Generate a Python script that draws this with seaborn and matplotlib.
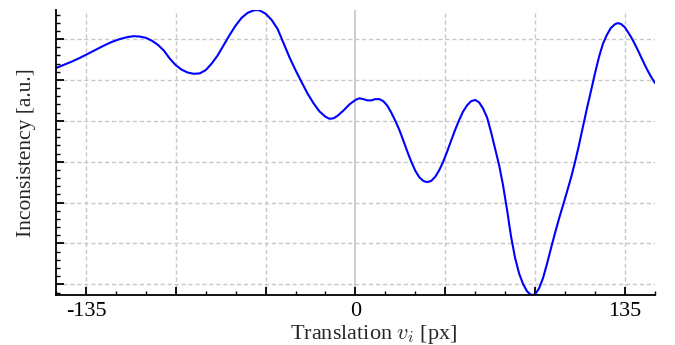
import numpy as np
import pandas as pd
import matplotlib
matplotlib.use("Agg")
import matplotlib.pyplot as plt
import seaborn as sns
from matplotlib.ticker import MultipleLocator, NullFormatter, FixedLocator

# translation (px) and inconsistency (a.u.)
translation = [-150, -146, -142, -138, -134, -130, -126, -122, -118, -114,
               -111, -108, -105, -102, -99, -96, -93, -90, -87, -84,
               -81, -78, -75, -72, -69, -66, -63, -60, -57, -54,
               -51, -49.5, -48, -45, -42, -39, -36, -33, -30, -27,
               -24, -21, -18, -15, -13, -11, -9, -6, -3, 0,
               2, 4, 6, 8, 10, 12, 14, 16, 18, 20,
               22, 24, 26, 28, 30, 32, 34, 36, 38, 40,
               42, 44, 46, 48, 50, 52, 54, 56, 58, 60,
               62, 64, 66, 68, 70, 72, 74, 76, 78, 80,
               82, 84, 86, 88, 90, 92, 94, 96, 98, 100,
               102, 104, 106, 108, 110, 112, 114, 116, 118, 120,
               122, 124, 126, 128, 130, 131.5, 133, 135, 138, 140,
               142, 144, 146, 148, 150]
inconsistency = [5.29, 5.37, 5.45, 5.54, 5.64, 5.74, 5.84, 5.93, 6.00, 6.05,
                 6.07, 6.06, 6.03, 5.96, 5.86, 5.72, 5.52, 5.36, 5.25, 5.18,
                 5.15, 5.16, 5.24, 5.40, 5.60, 5.85, 6.10, 6.33, 6.52, 6.64,
                 6.70, 6.71, 6.70, 6.62, 6.47, 6.25, 5.90, 5.55, 5.24, 4.95,
                 4.67, 4.43, 4.23, 4.10, 4.05, 4.06, 4.12, 4.25, 4.40, 4.51,
                 4.55, 4.53, 4.50, 4.50, 4.53, 4.53, 4.48, 4.37, 4.20, 4.00,
                 3.78, 3.52, 3.25, 3.00, 2.78, 2.62, 2.53, 2.50, 2.53, 2.63,
                 2.79, 3.00, 3.25, 3.52, 3.78, 4.02, 4.23, 4.38, 4.48, 4.51,
                 4.45, 4.30, 4.08, 3.72, 3.32, 2.92, 2.42, 1.82, 1.17, 0.65,
                 0.27, 0.01, -0.17, -0.26, -0.25, -0.10, 0.15, 0.50, 0.88, 1.25,
                 1.60, 1.93, 2.26, 2.60, 2.98, 3.40, 3.85, 4.30, 4.72, 5.15,
                 5.55, 5.88, 6.10, 6.27, 6.36, 6.39, 6.37, 6.29, 6.06, 5.88,
                 5.68, 5.47, 5.27, 5.09, 4.93]
x_labels = ["-135", "", "", "0", "", "", "135"]
x_major = [-135, -90, -45, 0, 45, 90, 135]

df = pd.DataFrame({"t": translation, "c": inconsistency})

sns.set_style("ticks")
plt.rcParams["font.family"] = ["Liberation Serif", "DejaVu Serif"]
plt.rcParams["mathtext.fontset"] = "cm"

fig = plt.figure(figsize=(6.75, 3.45), dpi=100)
ax = fig.add_axes([0.083, 0.145, 0.887, 0.826])

# grid: dashed, with a solid line at zero translation
for gx in x_major:
    if gx == 0:
        ax.axvline(gx, color="#c8c8c8", lw=1.3, zorder=0)
    else:
        ax.axvline(gx, color="#c8c8c8", lw=1, ls=(0, (3, 2)), zorder=0)
for gy in range(0, 7):
    ax.axhline(gy, color="#c8c8c8", lw=1, ls=(0, (3, 2)), zorder=0)

sns.lineplot(data=df, x="t", y="c", ax=ax, color="#0000ff", lw=1.5,
             sort=False, estimator=None)

ax.set_xlim(-150, 150)
ax.set_ylim(df["c"].min(), df["c"].max())

ax.xaxis.set_major_locator(FixedLocator(x_major))
ax.set_xticklabels(x_labels)
ax.xaxis.set_minor_locator(MultipleLocator(15))
ax.yaxis.set_major_locator(MultipleLocator(1))
ax.yaxis.set_minor_locator(MultipleLocator(0.2))
ax.yaxis.set_major_formatter(NullFormatter())

ax.tick_params(which="major", direction="in", length=6, width=1.3, labelsize=16, colors="black")
ax.tick_params(which="minor", direction="in", length=3, width=1, colors="black")
ax.tick_params(axis="x", pad=5)

sns.despine(ax=ax)
for s in ["left", "bottom"]:
    ax.spines[s].set_linewidth(1.3)
    ax.spines[s].set_color("black")

ax.set_xlabel(r"Translation $v_i$ [px]", fontsize=16, labelpad=0)
ax.xaxis.set_label_coords(0.531, -0.097)
ax.set_ylabel("Inconsistency [a.u.]", fontsize=15.5, labelpad=11)

fig.savefig("out.png", dpi=100)
